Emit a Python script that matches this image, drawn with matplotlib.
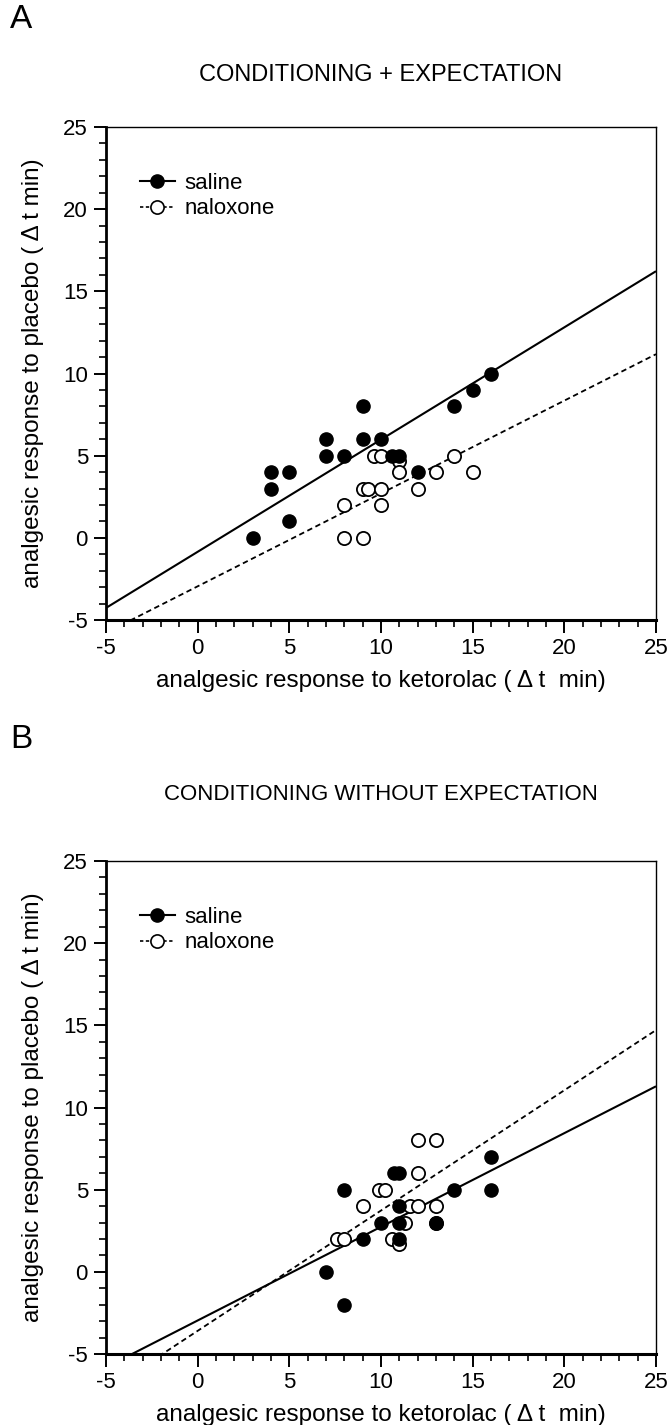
import matplotlib
matplotlib.use('Agg')
import matplotlib.pyplot as plt
from matplotlib.ticker import MultipleLocator
from matplotlib.lines import Line2D
import numpy as np

plt.rcParams['font.family'] = ['Liberation Sans', 'DejaVu Sans']
plt.rcParams['axes.unicode_minus'] = False

# ---- data ----
# Panel A: CONDITIONING + EXPECTATION
a_sal_x = [3, 4, 4, 5, 5, 7, 7, 8, 9, 9, 10, 10.6, 11, 12, 14, 15, 16]
a_sal_y = [0, 4, 3, 4, 1, 6, 5, 5, 8, 6, 6, 5, 5, 4, 8, 9, 10]
a_nal_x = [14, 9.6, 10, 11, 11, 13, 15, 9, 9.3, 10, 12, 8, 10, 8, 9]
a_nal_y = [5, 5, 5, 4.7, 4, 4, 4, 3, 3, 3, 3, 2, 2, 0, 0]
a_sal_fit = [0.683, -0.85]   # slope, intercept
a_nal_fit = [0.565, -2.95]

# Panel B: CONDITIONING WITHOUT EXPECTATION
b_sal_x = [16, 16, 14, 8, 10.7, 11, 11, 10, 11, 13, 9, 11, 7, 8]
b_sal_y = [7, 5, 5, 5, 6, 6, 4, 3, 3, 3, 2, 2, 0, -2]
b_nal_x = [12, 13, 12, 9.9, 10.2, 9, 11.6, 12, 13, 11.3, 7.6, 8, 10.6, 11, 13]
b_nal_y = [8, 8, 6, 5, 5, 4, 4, 4, 4, 3, 2, 2, 2, 1.7, 3]
b_sal_fit = [0.57, -2.96]
b_nal_fit = [0.732, -3.59]

panels = [
    dict(letter='A', title='CONDITIONING + EXPECTATION',
         sx=a_sal_x, sy=a_sal_y, nx=a_nal_x, ny=a_nal_y, sf=a_sal_fit, nf=a_nal_fit),
    dict(letter='B', title='CONDITIONING WITHOUT EXPECTATION',
         sx=b_sal_x, sy=b_sal_y, nx=b_nal_x, ny=b_nal_y, sf=b_sal_fit, nf=b_nal_fit),
]

W, H = 671, 1425
fig = plt.figure(figsize=(W / 100, H / 100), dpi=100)

axes_px = [(106, 127, 550, 493), (106, 861, 550, 493)]  # left, top, width, height
letter_y = [20, 740]
title_pad = [33, 44]
title_size = [17, 16]

xfit = np.array([-5.0, 25.0])
for p, (l, t, w, h), ly, tp, ts in zip(panels, axes_px, letter_y, title_pad, title_size):
    ax = fig.add_axes([l / W, 1 - (t + h) / H, w / W, h / H])
    ax.set_xlim(-5, 25)
    ax.set_ylim(-5, 25)
    ax.xaxis.set_major_locator(MultipleLocator(5))
    ax.xaxis.set_minor_locator(MultipleLocator(1))
    ax.yaxis.set_major_locator(MultipleLocator(5))
    ax.yaxis.set_minor_locator(MultipleLocator(1))
    ax.tick_params(which='major', direction='out', length=9, width=1.4,
                   labelsize=16, pad=4)
    ax.tick_params(which='minor', direction='out', length=5, width=1.2)
    ax.tick_params(top=False, right=False)
    ax.spines['bottom'].set_linewidth(2.2)
    ax.spines['left'].set_linewidth(2.0)
    ax.spines['top'].set_linewidth(1.0)
    ax.spines['right'].set_linewidth(1.0)

    ax.plot(xfit, p['sf'][0] * xfit + p['sf'][1], color='black', lw=1.5,
            solid_capstyle='butt', zorder=2)
    ax.plot(xfit, p['nf'][0] * xfit + p['nf'][1], color='black', lw=1.3,
            linestyle=(0, (3, 2)), zorder=2)
    ax.plot(p['nx'], p['ny'], linestyle='none', marker='o', ms=9.5,
            mfc='white', mec='black', mew=1.3, zorder=3)
    ax.plot(p['sx'], p['sy'], linestyle='none', marker='o', ms=9.5,
            mfc='black', mec='black', mew=1.0, zorder=4)

    h1 = Line2D([], [], color='black', lw=1.5, marker='o', ms=9.5,
                mfc='black', mec='black')
    h2 = Line2D([], [], color='black', lw=1.2, linestyle=(0, (2, 1.5)),
                marker='o', ms=9.5, mfc='white', mec='black', mew=1.2)
    ax.legend([h1, h2], ['saline', 'naloxone'], loc='upper left',
              bbox_to_anchor=(0.045, 0.925), frameon=False, fontsize=16,
              handlelength=1.6, handletextpad=0.4, labelspacing=0.2,
              borderaxespad=0.0)

    ax.set_xlabel('analgesic response to ketorolac ( Δ t  min)', fontsize=17.5,
                  labelpad=8)
    ax.set_ylabel('analgesic response to placebo ( Δ t min)', fontsize=17.5,
                  labelpad=14)
    ax.set_title(p['title'], fontsize=ts, pad=tp)
    fig.text(10 / W, 1 - ly / H, p['letter'], fontsize=24,
             ha='left', va='center')

fig.savefig('out.png', dpi=100)
